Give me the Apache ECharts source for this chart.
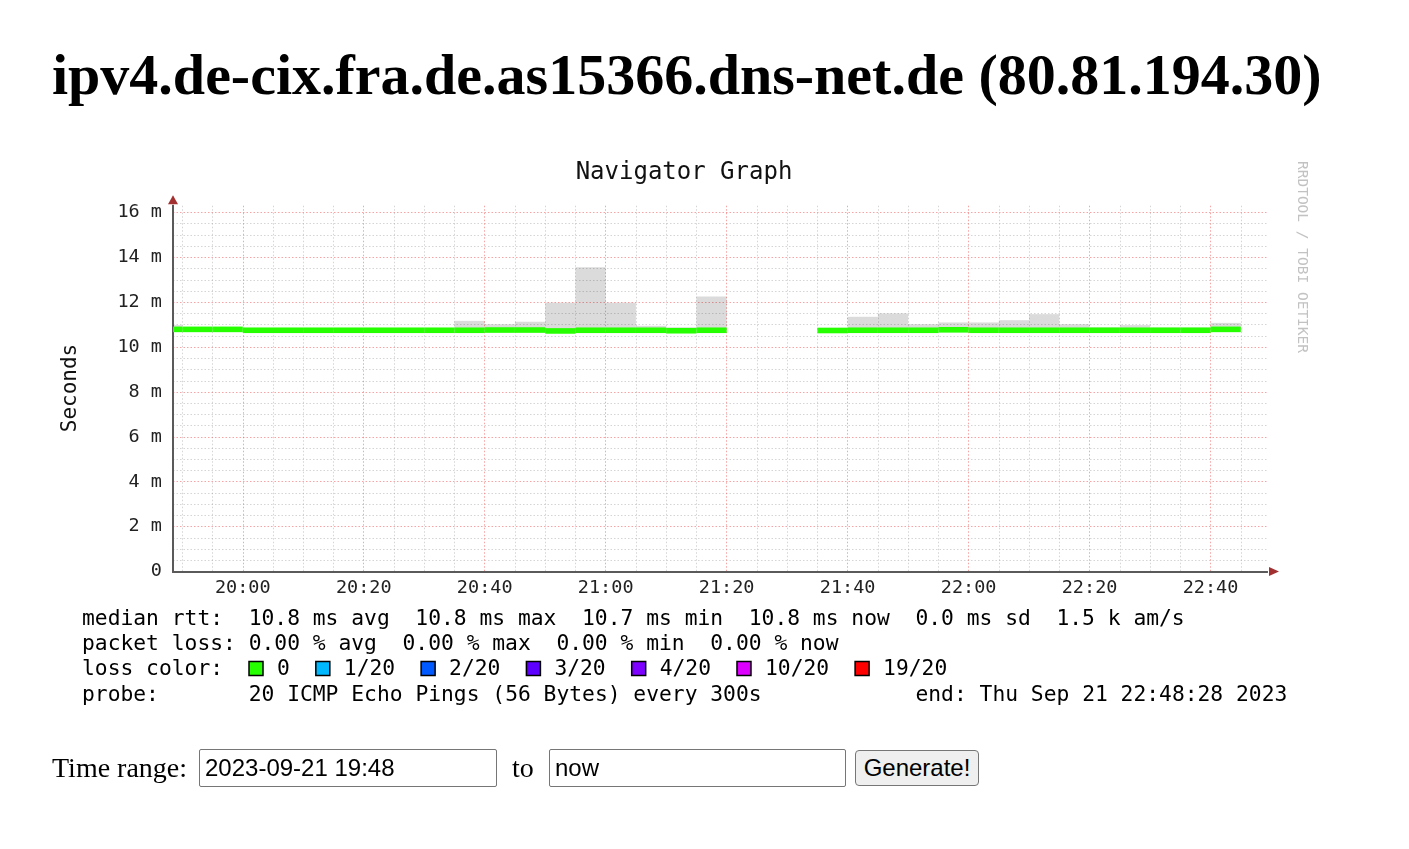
<!DOCTYPE html>
<html>
<head>
<meta charset="utf-8">
<script src="https://cdn.jsdelivr.net/npm/echarts@6/dist/echarts.min.js"></script>
<style>
html,body{margin:0;padding:0;background:#fff;width:1409px;height:849px;overflow:hidden;}
#chart{position:absolute;left:0;top:0;width:1409px;height:849px;}
h1{position:absolute;left:52px;top:46px;margin:0;font:bold 58px/58px "Liberation Serif","Times New Roman",serif;color:#000;white-space:nowrap;z-index:2;}
.lbl{position:absolute;top:754px;font:28px/28px "Liberation Serif","Times New Roman",serif;color:#000;z-index:2;white-space:nowrap;}
.inp{position:absolute;top:749px;height:38px;box-sizing:border-box;border:1px solid #767676;border-radius:2px;background:#fff;
  font:24px "Liberation Sans",Arial,sans-serif;color:#000;padding:0 0 0 5px;margin:0;z-index:2;}
.btn{position:absolute;left:855px;top:750px;width:124px;height:36px;box-sizing:border-box;border:1px solid #767676;border-radius:4px;
  background:#efefef;font:24px "Liberation Sans",Arial,sans-serif;color:#000;padding:0;margin:0;z-index:2;}
</style>
</head>
<body>
<div id="chart"></div>
<h1>ipv4.de-cix.fra.de.as15366.dns-net.de (80.81.194.30)</h1>
<span class="lbl" style="left:52px">Time range:</span>
<input class="inp" style="left:199px;width:298px" type="text" value="2023-09-21 19:48">
<span class="lbl" style="left:512px">to</span>
<input class="inp" style="left:549px;width:297px" type="text" value="now">
<button class="btn">Generate!</button>
<script>
// ---------------- data ----------------
const graphTitle = 'Navigator Graph';
const yAxisName = 'Seconds';
const viewStart = '19:48:28';
const viewEnd = '22:49:20';
const stepMinutes = 5;
const intervalEnds = ['19:50','19:55','20:00','20:05','20:10','20:15','20:20','20:25','20:30','20:35',
  '20:40','20:45','20:50','20:55','21:00','21:05','21:10','21:15','21:20','21:25',
  '21:30','21:35','21:40','21:45','21:50','21:55','22:00','22:05','22:10','22:15',
  '22:20','22:25','22:30','22:35','22:40','22:45'];
const medianMs = [10.79,10.79,10.79,10.75,10.75,10.75,10.75,10.75,10.75,10.75,
  10.75,10.76,10.76,10.72,10.75,10.75,10.75,10.73,10.75,null,
  null,null,10.74,10.75,10.75,10.75,10.77,10.75,10.75,10.75,
  10.75,10.75,10.75,10.75,10.75,10.79];
const smokeTopMs = [10.98,10.86,10.86,10.84,10.84,10.84,10.84,10.84,10.84,10.85,
  11.17,11.02,11.13,11.98,13.56,11.98,10.95,10.88,12.25,null,
  null,null,10.86,11.35,11.50,11.02,11.10,11.10,11.20,11.47,
  11.02,10.88,10.98,10.87,10.87,11.08];
const yMajorTicks = [0,2,4,6,8,10,12,14,16];
const yMax = 16.3;
const xMajorTickLabels = ['20:00','20:20','20:40','21:00','21:20','21:40','22:00','22:20','22:40'];
const legendLines = [
  'median rtt:  10.8 ms avg  10.8 ms max  10.7 ms min  10.8 ms now  0.0 ms sd  1.5 k am/s',
  'packet loss: 0.00 % avg  0.00 % max  0.00 % min  0.00 % now'
];
const lossColorTitle = 'loss color:';
const lossLabels = ['0','1/20','2/20','3/20','4/20','10/20','19/20'];
const lossColors = ['#26ff00','#00b8ff','#0059ff','#5e00ff','#7e00ff','#dd00ff','#ff0000'];
const probeLabel = 'probe:';
const probeText = '20 ICMP Echo Pings (56 Bytes) every 300s';
const endText = 'end: Thu Sep 21 22:48:28 2023';
const watermark = 'RRDTOOL / TOBI OETIKER';

// ---------------- helpers ----------------
function toMin(s){const p=s.split(':').map(Number);return p[0]*60+p[1]+(p[2]||0)/60;}
function fmtMin(v){const h=Math.floor(v/60), m=Math.round(v-h*60);return String(h).padStart(2,'0')+':'+String(m).padStart(2,'0');}
const xMin = toMin(viewStart), xMax = toMin(viewEnd);
const xMajor = xMajorTickLabels.map(toMin);
const xMinor = [];
for (let t = Math.ceil(xMin/5)*5; t <= xMax; t += 5) { if (xMajor.indexOf(t) < 0) xMinor.push(t); }
const yMinor = [];
for (let v = 0.5; v < yMax; v += 0.5) { if (yMajorTicks.indexOf(v) < 0) yMinor.push(v); }

const smokeData = [], medianData = [];
intervalEnds.forEach((t,i)=>{
  if (medianMs[i] == null) return;
  const e = toMin(t), s = e - stepMinutes;
  smokeData.push([s, e, medianMs[i], smokeTopMs[i]]);
  medianData.push([s, e, medianMs[i]]);
});

// ---------------- styles ----------------
const MONO = '"DejaVu Sans Mono", monospace';
const axisGray = '#5a5a5a';
const arrowRed = '#a33030';
const majorGrid = {show:true, lineStyle:{color:'rgba(240,90,90,0.55)', width:1, type:[1.5,2]}};
const minorGrid = {show:true, lineStyle:{color:'rgba(150,150,150,0.4)', width:1, type:[1.5,2]}};
const FS = 21.3;

const chart = echarts.init(document.getElementById('chart'), null, {renderer:'canvas'});

const charW = FS*0.602;
function txt(x, y, s, extra){
  return Object.assign({type:'text', x:x, y:y, style:{text:s, font:FS+'px '+MONO, fill:'#000', textAlign:'left', textVerticalAlign:'middle', align:'left', verticalAlign:'middle'}}, extra||{});
}
const graphics = [
  {type:'text', x:684, y:173, style:{text:graphTitle, font:'24px '+MONO, fill:'#111', textAlign:'center', textVerticalAlign:'middle', align:'center', verticalAlign:'middle'}},
  {type:'text', x:70.5, y:388, rotation:Math.PI/2, style:{text:yAxisName, font:'21px '+MONO, fill:'#111', textAlign:'center', textVerticalAlign:'middle', align:'center', verticalAlign:'middle'}},
  {type:'text', x:1302, y:257, rotation:-Math.PI/2, style:{text:watermark, font:'14.5px '+MONO, fill:'#c2c2c2', textAlign:'center', textVerticalAlign:'middle', align:'center', verticalAlign:'middle'}}
];
const lineY = [619, 644, 669, 695];
legendLines.forEach((l,i)=>{ graphics.push(txt(82, lineY[i], l)); });
graphics.push(txt(82, lineY[2], lossColorTitle));
let bx = 249;
lossLabels.forEach((lab,i)=>{
  graphics.push({type:'rect', shape:{x:bx, y:lineY[2]-7.5, width:14, height:14}, style:{fill:lossColors[i], stroke:'#000', lineWidth:1.5}});
  const tx = bx + 28;
  graphics.push(txt(tx, lineY[2], lab));
  bx = tx + lab.length*charW + 26;
});
graphics.push(txt(82, lineY[3], probeLabel));
graphics.push(txt(82+13*charW, lineY[3], probeText));
graphics.push(txt(82+65*charW, lineY[3], endText));

function clipRect(r, cs){ return echarts.graphic.clipRectByRect(r, {x:cs.x, y:cs.y, width:cs.width, height:cs.height}); }

const option = {
  animation:false,
  backgroundColor:'transparent',
  grid:{left:173, right:142, top:571.5-yMax*22.44, bottom:849-571.5},
  xAxis:[
    {type:'value', position:'bottom', offset:0, min:xMin, max:xMax, z:3,
      axisLine:{show:true, onZero:false, lineStyle:{color:axisGray, width:2}},
      axisTick:{show:false, customValues:xMajor},
      axisLabel:{show:true, customValues:xMajor, formatter:fmtMin, margin:7, color:'#222', fontFamily:'DejaVu Sans Mono', fontSize:18.5},
      splitLine:majorGrid},
    {type:'value', position:'bottom', offset:0, min:xMin, max:xMax, z:1,
      axisLine:{show:false}, axisTick:{show:false, customValues:xMinor}, axisLabel:{show:false}, splitLine:minorGrid},
    {type:'value', position:'bottom', offset:0, min:xMin, max:xMax, z:2,
      axisLine:{show:true, onZero:false, symbol:['none','triangle'], symbolSize:[9,10], symbolOffset:[0,7], lineStyle:{color:arrowRed, width:2}},
      axisTick:{show:false}, axisLabel:{show:false}, splitLine:{show:false}}
  ],
  yAxis:[
    {type:'value', position:'left', offset:0, min:0, max:yMax, z:3,
      axisLine:{show:true, onZero:false, lineStyle:{color:axisGray, width:2}},
      axisTick:{show:false, customValues:yMajorTicks},
      axisLabel:{show:true, customValues:yMajorTicks, formatter:v=> v===0?'0':(v+' m'), margin:11, color:'#222', fontFamily:'DejaVu Sans Mono', fontSize:18.5},
      splitLine:majorGrid},
    {type:'value', position:'left', offset:0, min:0, max:yMax, z:1,
      axisLine:{show:false}, axisTick:{show:false, customValues:yMinor}, axisLabel:{show:false}, splitLine:minorGrid},
    {type:'value', position:'left', offset:0, min:0, max:yMax, z:2,
      axisLine:{show:true, onZero:false, symbol:['none','triangle'], symbolSize:[10,9], symbolOffset:[0,6], lineStyle:{color:arrowRed, width:2}},
      axisTick:{show:false}, axisLabel:{show:false}, splitLine:{show:false}}
  ],
  graphic:graphics,
  series:[
    {type:'custom', name:'smoke', xAxisIndex:0, yAxisIndex:0, z:4, data:smokeData, encode:{x:[0,1], y:[2,3]},
      renderItem:(params, api)=>{
        const a = api.coord([api.value(0), api.value(3)]);
        const b = api.coord([api.value(1), api.value(2)]);
        const r = clipRect({x:a[0], y:a[1], width:b[0]-a[0], height:b[1]-a[1]}, params.coordSys);
        return r ? {type:'rect', shape:r, style:{fill:'rgba(0,0,0,0.14)'}} : null;
      }},
    {type:'custom', name:'median', xAxisIndex:0, yAxisIndex:0, z:5, data:medianData, encode:{x:[0,1], y:[2]},
      renderItem:(params, api)=>{
        const a = api.coord([api.value(0), api.value(2)]);
        const b = api.coord([api.value(1), api.value(2)]);
        const r = clipRect({x:a[0], y:a[1]-2.8, width:b[0]-a[0], height:5.6}, params.coordSys);
        return r ? {type:'rect', shape:r, style:{fill:'#26ff00'}} : null;
      }}
  ]
};
chart.setOption(option);
</script>
</body>
</html>
